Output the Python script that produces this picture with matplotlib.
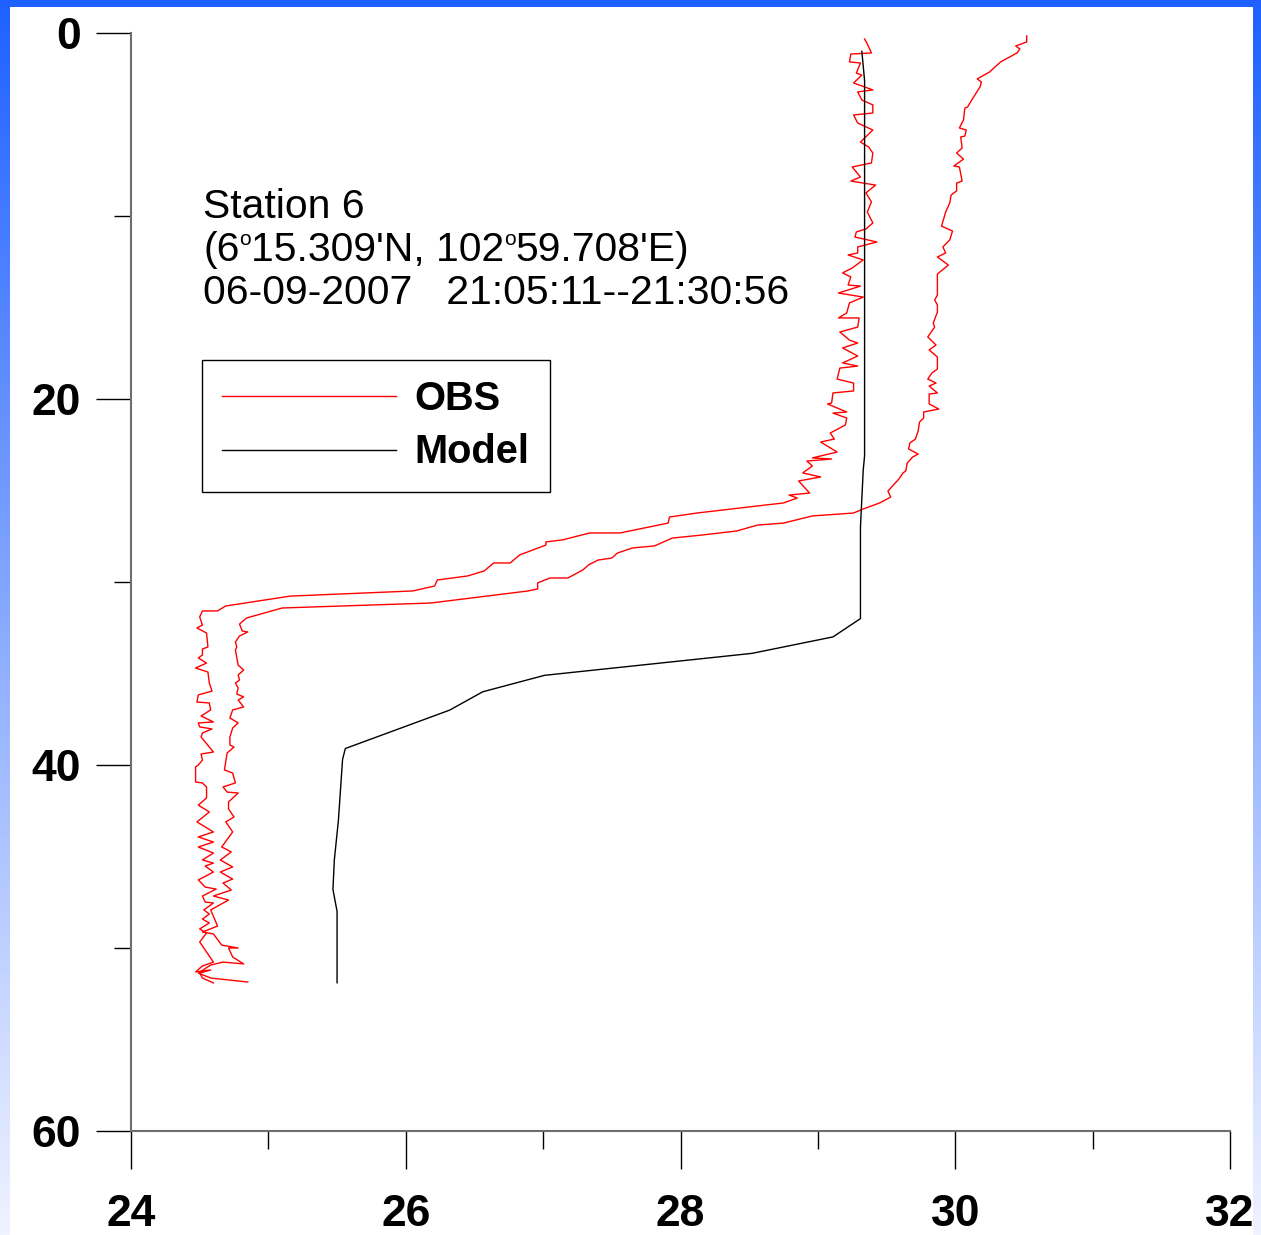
import numpy as np
import matplotlib
matplotlib.use("Agg")
import matplotlib.pyplot as plt
from matplotlib.patches import Rectangle

plt.rcParams['font.family'] = ['Liberation Sans', 'DejaVu Sans']

# model profile (temperature, depth)
model_temp = [29.32, 29.34, 29.34, 29.33, 29.31, 29.31, 29.11, 28.52, 27.01, 26.56,
              26.32, 25.56, 25.54, 25.51, 25.48, 25.47, 25.50, 25.50]
model_depth = [1.0, 2.6, 23.1, 23.9, 27.0, 32.0, 33.0, 33.9, 35.1, 36.0,
               37.0, 39.1, 39.7, 43.0, 45.2, 46.8, 48.0, 51.9]

# observed profile, first cast
obs1_temp = [29.34, 29.36, 29.39, 29.24, 29.23, 29.31, 29.28, 29.32, 29.26, 29.40,
             29.29, 29.32, 29.40, 29.40, 29.26, 29.29, 29.40, 29.31, 29.37, 29.40,
             29.39, 29.25, 29.31, 29.24, 29.42, 29.35, 29.39, 29.36, 29.40, 29.35,
             29.28, 29.27, 29.43, 29.29, 29.29, 29.22, 29.33, 29.25, 29.18, 29.24,
             29.22, 29.31, 29.15, 29.33, 29.23, 29.21, 29.15, 29.30, 29.29, 29.16,
             29.23, 29.29, 29.18, 29.29, 29.18, 29.29, 29.16, 29.14, 29.26, 29.26,
             29.11, 29.10, 29.07, 29.21, 29.11, 29.21, 29.20, 29.09, 29.12, 29.02,
             29.14, 28.96, 29.10, 28.92, 28.96, 28.89, 29.02, 28.86, 28.94, 28.79,
             28.85, 28.75, 28.19, 28.12, 27.92, 27.91, 27.56, 27.34, 27.14, 27.02,
             27.02, 26.83, 26.76, 26.64, 26.57, 26.45, 26.23, 26.21, 26.05, 25.16,
             24.69, 24.63, 24.52, 24.50, 24.52, 24.48, 24.55, 24.56, 24.52, 24.52,
             24.49, 24.55, 24.47, 24.56, 24.57, 24.59, 24.49, 24.48, 24.57, 24.58,
             24.51, 24.60, 24.49, 24.50, 24.59, 24.52, 24.51, 24.60, 24.51, 24.52,
             24.49, 24.47, 24.47, 24.47, 24.52, 24.55, 24.55, 24.49, 24.57, 24.48,
             24.60, 24.49, 24.60, 24.49, 24.60, 24.52, 24.60, 24.54, 24.60, 24.49,
             24.54, 24.62, 24.52, 24.54, 24.60, 24.53, 24.57, 24.52, 24.57, 24.50,
             24.55, 24.50, 24.60, 24.52, 24.47, 24.58, 24.50, 24.52, 24.60]
obs1_depth = [0.33, 0.60, 1.09, 1.15, 1.58, 1.64, 2.19, 2.30, 2.73, 3.11,
              3.22, 3.66, 3.93, 4.37, 4.48, 4.92, 5.30, 5.96, 6.23, 6.56,
              7.10, 7.32, 7.87, 8.09, 8.31, 8.74, 9.23, 9.78, 10.38, 10.71,
              10.87, 11.15, 11.42, 11.69, 12.02, 12.13, 12.40, 12.84, 13.11, 13.33,
              13.77, 13.83, 14.21, 14.43, 14.75, 15.30, 15.57, 15.57, 16.07, 16.34,
              16.78, 16.94, 17.21, 17.65, 18.03, 18.20, 18.31, 18.91, 19.13, 19.56,
              19.67, 20.22, 20.27, 20.71, 20.77, 21.04, 21.42, 21.86, 22.19, 22.35,
              22.90, 23.22, 23.28, 23.39, 23.66, 24.04, 24.26, 24.48, 25.14, 25.25,
              25.41, 25.68, 26.17, 26.23, 26.45, 26.78, 27.32, 27.32, 27.70, 27.81,
              27.98, 28.52, 28.96, 28.96, 29.40, 29.67, 29.89, 30.22, 30.49, 30.77,
              31.31, 31.58, 31.58, 31.91, 32.35, 32.51, 32.79, 33.55, 33.66, 33.99,
              34.15, 34.43, 34.70, 34.92, 35.52, 35.96, 36.17, 36.56, 36.61, 36.99,
              37.32, 37.65, 37.70, 37.92, 38.03, 38.25, 38.47, 39.29, 39.40, 39.73,
              40.00, 40.11, 40.44, 40.93, 40.98, 41.20, 41.80, 42.19, 42.57, 43.11,
              43.66, 43.93, 44.21, 44.48, 44.81, 45.19, 45.36, 45.52, 45.85, 46.28,
              46.67, 46.78, 47.16, 47.49, 47.54, 47.92, 48.14, 48.42, 48.63, 48.96,
              49.18, 49.67, 50.77, 50.98, 51.31, 51.20, 51.37, 51.64, 51.91]

# observed profile, second cast
obs2_temp = [30.52, 30.52, 30.44, 30.47, 30.45, 30.33, 30.25, 30.16, 30.19, 30.18,
             30.12, 30.09, 30.07, 30.06, 30.03, 30.08, 30.07, 30.04, 30.05, 30.01,
             30.06, 29.99, 30.03, 30.05, 30.01, 30.01, 29.97, 29.96, 29.93, 29.92,
             29.90, 29.98, 29.96, 29.91, 29.93, 29.87, 29.95, 29.87, 29.87, 29.87,
             29.85, 29.87, 29.87, 29.84, 29.85, 29.80, 29.86, 29.81, 29.87, 29.87,
             29.83, 29.80, 29.86, 29.81, 29.87, 29.81, 29.81, 29.88, 29.77, 29.77,
             29.74, 29.73, 29.71, 29.67, 29.66, 29.73, 29.69, 29.65, 29.64, 29.62,
             29.59, 29.51, 29.53, 29.45, 29.33, 29.26, 28.96, 28.75, 28.56, 28.41,
             28.16, 27.94, 27.81, 27.65, 27.54, 27.50, 27.40, 27.33, 27.29, 27.18,
             27.05, 26.96, 26.96, 26.89, 26.18, 25.10, 24.84, 24.79, 24.81, 24.85,
             24.79, 24.76, 24.77, 24.76, 24.78, 24.82, 24.78, 24.79, 24.76, 24.78,
             24.77, 24.82, 24.78, 24.82, 24.74, 24.72, 24.78, 24.74, 24.72, 24.72,
             24.75, 24.70, 24.68, 24.74, 24.76, 24.67, 24.70, 24.78, 24.71, 24.71,
             24.75, 24.69, 24.74, 24.66, 24.73, 24.65, 24.74, 24.65, 24.74, 24.67,
             24.73, 24.60, 24.71, 24.58, 24.63, 24.52, 24.60, 24.66, 24.78, 24.71,
             24.74, 24.82, 24.67, 24.58, 24.49, 24.58, 24.85]
obs2_depth = [0.16, 0.49, 0.71, 0.87, 1.09, 1.58, 2.13, 2.51, 2.68, 2.95,
              3.66, 4.04, 4.10, 4.75, 5.19, 5.30, 5.63, 5.68, 6.28, 6.56,
              6.89, 7.27, 7.32, 8.09, 8.20, 8.63, 8.85, 9.29, 9.78, 10.05,
              10.55, 10.82, 11.31, 11.69, 12.02, 12.24, 12.68, 13.17, 14.04, 14.32,
              14.59, 14.86, 15.25, 15.85, 16.07, 16.61, 17.05, 17.32, 17.70, 18.36,
              18.58, 18.91, 19.13, 19.29, 19.67, 19.73, 20.27, 20.55, 20.71, 21.04,
              21.26, 21.75, 22.19, 22.40, 22.73, 23.01, 23.17, 23.50, 23.93, 24.04,
              24.37, 25.03, 25.36, 25.68, 26.01, 26.23, 26.39, 26.78, 26.89, 27.21,
              27.43, 27.60, 28.03, 28.14, 28.42, 28.69, 28.80, 29.07, 29.34, 29.78,
              29.78, 30.05, 30.38, 30.49, 31.15, 31.42, 31.97, 32.30, 32.68, 32.73,
              32.95, 33.28, 33.55, 33.72, 34.54, 34.81, 35.08, 35.36, 35.52, 35.79,
              36.12, 36.28, 36.45, 36.83, 36.99, 37.43, 37.70, 37.98, 38.47, 38.91,
              39.02, 39.34, 40.27, 40.44, 40.98, 41.20, 41.48, 41.53, 42.02, 42.40,
              42.84, 43.11, 43.66, 44.48, 44.75, 45.19, 45.57, 45.85, 46.23, 46.45,
              46.83, 47.16, 47.38, 47.92, 48.80, 49.13, 49.23, 49.84, 50.00, 50.00,
              50.49, 50.87, 50.77, 50.93, 51.37, 51.64, 51.86]

W, H = 1261, 1235
fig = plt.figure(figsize=(W / 100, H / 100), dpi=100)

# slide background: blue gradient with a white panel
bg = fig.add_axes([0, 0, 1, 1], zorder=0)
bg.axis('off')
t = np.linspace(0, 1, 256)[:, None]
top = np.array([0.12, 0.38, 1.0])
bot = np.array([0.94, 0.95, 1.0])
grad = (1 - t)[:, :, None] * top + t[:, :, None] * bot
grad = np.repeat(grad, 2, axis=1)
bg.imshow(grad, aspect='auto', extent=[0, 1, 0, 1])
bg.add_patch(Rectangle((10 / W, 0), (1253 - 10) / W, 1 - 7 / H,
                       facecolor='white', edgecolor='none'))
bg.set_xlim(0, 1)
bg.set_ylim(0, 1)

ax = fig.add_axes([131 / W, 1 - 1131 / H, 1099 / W, 1098 / H], zorder=1)
ax.patch.set_alpha(0)

ax.plot(obs1_temp, obs1_depth, color='red', lw=1.0, label='OBS')
ax.plot(obs2_temp, obs2_depth, color='red', lw=1.0)
ax.plot(model_temp, model_depth, color='black', lw=1.0, label='Model')

ax.set_xlim(24, 32)
ax.set_ylim(60, 0)
ax.set_xticks([24, 26, 28, 30, 32])
ax.set_xticks([25, 27, 29, 31], minor=True)
ax.set_yticks([0, 20, 40, 60])
ax.set_yticks([10, 30, 50], minor=True)

for s in ['top', 'right']:
    ax.spines[s].set_visible(False)
for s in ['left', 'bottom']:
    ax.spines[s].set_color('#6e6e6e')
    ax.spines[s].set_linewidth(1.5)

ax.tick_params(axis='x', which='major', direction='out', length=27, width=1,
               pad=18, labelsize=32)
ax.tick_params(axis='x', which='minor', direction='out', length=13, width=1)
ax.tick_params(axis='y', which='major', direction='out', length=25, width=1,
               pad=11, labelsize=32)
ax.tick_params(axis='y', which='minor', direction='out', length=12.5, width=1)
for lab in ax.get_xticklabels() + ax.get_yticklabels():
    lab.set_fontweight('bold')

# station info
fs = 29.4
fig.text(203 / W, 1 - 218 / H, 'Station 6', fontsize=fs, va='baseline')
fig.text(203 / W, 1 - 304 / H, '06-09-2007   21:05:11--21:30:56',
         fontsize=fs, va='baseline')

# coordinate line with small raised "o" as degree marks
renderer = fig.canvas.get_renderer()
pieces = [('(6', fs, 0), ('o', 15, 16), ("15.309'N, 102", fs, 0),
          ('o', 15, 16), ("59.708'E)", fs, 0)]
xpos = 203
for s, size, dy in pieces:
    txt = fig.text(xpos / W, (H - 261 + dy) / H, s, fontsize=size, va='baseline')
    xpos = txt.get_window_extent(renderer).x1

leg = ax.legend(loc='upper left', bbox_to_anchor=(71 / 1099, (1131 - 360) / 1098),
                borderaxespad=0, fancybox=False, framealpha=1, edgecolor='black',
                prop={'size': 28.7, 'weight': 'bold'}, handlelength=4.35,
                handletextpad=0.48, borderpad=0.51, labelspacing=0.38)
leg.get_frame().set_linewidth(1.0)

fig.savefig('out.png', dpi=100)
